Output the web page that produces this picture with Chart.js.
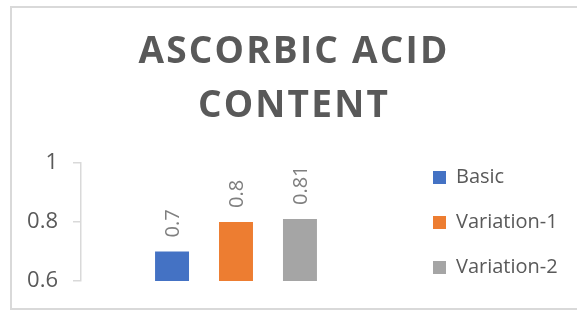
<!DOCTYPE html>
<html>
<head>
<meta charset="utf-8">
<script src="https://cdn.jsdelivr.net/npm/chart.js@4/dist/chart.umd.min.js"></script>
<style>
  html, body { margin: 0; padding: 0; background: #ffffff; overflow: hidden; }
  #wrap { position: relative; width: 577px; height: 311px; overflow: hidden; }
  #frame { position: absolute; left: 10px; top: 6px; width: 640px; height: 304px;
           box-sizing: border-box; border: 2px solid #d9d9d9; }
  #c { position: absolute; left: 0; top: 0; }
</style>
</head>
<body>
<div id="wrap">
  <div id="frame"></div>
  <canvas id="c" width="577" height="311"></canvas>
</div>
<script>
// ---- data ----
const categories = [''];
const seriesNames = ['Basic', 'Variation-1', 'Variation-2'];
const basicValues = [0.7];
const variation1Values = [0.8];
const variation2Values = [0.81];
const yTicks = [0.6, 0.8, 1];
const titleLines = ['ASCORBIC ACID', 'CONTENT'];

const seriesColors = ['#4472C4', '#ED7D31', '#A5A5A5'];
const seriesValues = [basicValues, variation1Values, variation2Values];

const FONT = "'Open Sans', 'Noto Sans', sans-serif";

const valueLabels = {
  id: 'valueLabels',
  afterDatasetsDraw(chart) {
    const ctx = chart.ctx;
    chart.data.datasets.forEach((ds, i) => {
      const meta = chart.getDatasetMeta(i);
      meta.data.forEach((el, j) => {
        const v = ds.data[j];
        ctx.save();
        ctx.translate(el.x + 1, el.y - 14);
        ctx.rotate(-Math.PI / 2);
        ctx.font = "20px " + FONT;
        ctx.fillStyle = '#7f7f7f';
        ctx.textAlign = 'left';
        ctx.textBaseline = 'middle';
        ctx.fillText(String(v), 0, 0);
        ctx.restore();
      });
    });
  }
};

const placeBlocks = {
  id: 'placeBlocks',
  afterLayout(chart) {
    const lg = chart.legend;
    if (lg) {
      const dx = 433 - (lg.left + lg.options.labels.padding);
      lg.left += dx;
      lg.right = chart.width;
    }
    const t = chart.titleBlock;
    if (t) {
      t.left = 20; t.right = 568;
      if (!t._spaced) {
        const orig = t.draw;
        t.draw = function () {
          const c = this.ctx;
          c.save();
          try { c.letterSpacing = '2.2px'; } catch (e) {}
          orig.apply(this, arguments);
          c.restore();
        };
        t._spaced = true;
      }
    }
  }
};

const chart = new Chart(document.getElementById('c'), {
  type: 'bar',
  data: {
    labels: categories,
    datasets: seriesNames.map((name, i) => ({
      label: name,
      data: seriesValues[i],
      backgroundColor: seriesColors[i],
      borderWidth: 0,
      categoryPercentage: 0.619,
      barPercentage: 0.531
    }))
  },
  options: {
    responsive: false,
    devicePixelRatio: 1,
    animation: false,
    layout: { padding: { left: 20, right: 62, top: 6, bottom: 8.5 } },
    plugins: {
      tooltip: { enabled: false },
      title: {
        display: true,
        text: titleLines,
        color: '#595959',
        font: { family: FONT, size: 37, weight: 'bold', lineHeight: '54px' },
        padding: { top: 19.5, bottom: 29.5 }
      },
      legend: {
        display: true,
        position: 'right',
        align: 'end',
        maxWidth: 124,
        labels: {
          boxWidth: 13,
          boxHeight: 13,
          padding: 25,
          color: '#595959',
          font: { family: FONT, size: 20 }
        }
      }
    },
    scales: {
      x: {
        type: 'category',
        display: true,
        grid: { display: false },
        border: { display: false },
        ticks: { display: false },
        afterFit(s) { s.height = 21.5; }
      },
      y: {
        min: 0.6,
        max: 1,
        afterBuildTicks(s) { s.ticks = yTicks.map(v => ({ value: v })); },
        afterFit(s) { s.width = 61; },
        ticks: {
          color: '#595959',
          padding: 15,
          font: { family: FONT, size: 22 },
          callback: (v) => String(v)
        },
        grid: {
          display: true,
          drawOnChartArea: false,
          drawTicks: true,
          tickLength: 8,
          color: '#d9d9d9',
          lineWidth: 1.5
        },
        border: { display: true, color: '#d9d9d9', width: 1.5 }
      }
    }
  },
  plugins: [valueLabels, placeBlocks]
});

if (document.fonts && document.fonts.ready) {
  document.fonts.ready.then(() => chart.update());
}
</script>
</body>
</html>
